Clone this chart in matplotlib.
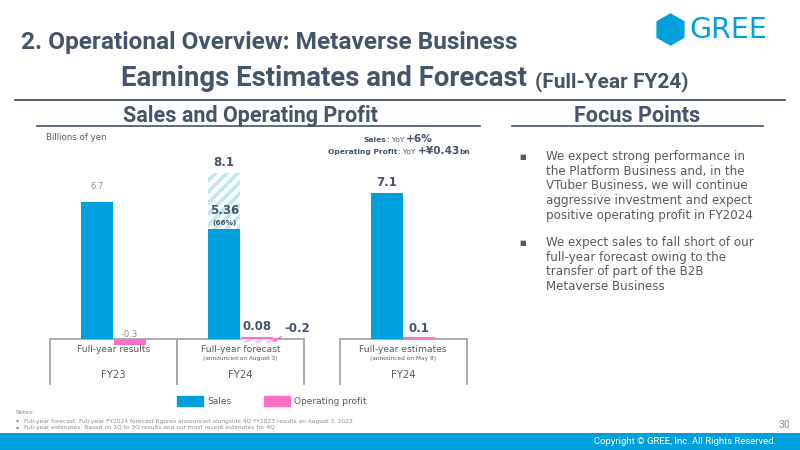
import matplotlib
matplotlib.use("Agg")
import matplotlib.pyplot as plt
from matplotlib.patches import Patch, RegularPolygon, Rectangle
from matplotlib.lines import Line2D

# ---------------- data ----------------
categories = ["Full-year results", "Full-year forecast", "Full-year estimates"]
sublabels = ["", "(announced on August 3)", "(announced on May 8)"]
years = ["FY23", "FY24", "FY24"]
sales_actual = [6.7, 5.36, 7.1]
sales_forecast = [None, 8.1, None]
profit_actual = [-0.3, 0.08, 0.1]
profit_forecast = [None, -0.2, None]
sales_pct_label = "(66%)"
yoy_sales = "+6%"
yoy_profit = "+\u00a50.43"
focus_points = [
    "We expect strong performance in\nthe Platform Business and, in the\nVTuber Business, we will continue\naggressive investment and expect\npositive operating profit in FY2024",
    "We expect sales to fall short of our\nfull-year forecast owing to the\ntransfer of part of the B2B\nMetaverse Business",
]
notes = [
    "Full-year forecast: Full-year FY2024 forecast figures announced alongside 4Q FY2023 results on August 3, 2023",
    "Full-year estimates: Based on 1Q to 3Q results and our most recent estimates for 4Q",
]

# ---------------- style ----------------
BLUE = "#00A0DC"
PINK = "#FF6EC7"
LBLUE = "#BDE6F7"
LPINK = "#FFC9EA"
DARK = "#44546A"
GRAY = "#595959"
LGRAY = "#8C8C8C"
BOX = "#A6A6A6"
HEAD = "Roboto"

plt.rcParams["hatch.linewidth"] = 2.6
plt.rcParams["font.family"] = ["DejaVu Sans"]

W, H = 800, 450
fig = plt.figure(figsize=(8, 4.5), dpi=100)
fig.patch.set_facecolor("white")
renderer = fig.canvas.get_renderer()


def fx(x):
    return x / W


def fy(y):
    return 1 - y / H


def hline(x0, x1, y, color=DARK, lw=1.2):
    fig.add_artist(Line2D([fx(x0), fx(x1)], [fy(y), fy(y)], color=color, lw=lw))


# ---------------- headers ----------------
fig.text(fx(21), fy(42), "2. Operational Overview: Metaverse Business", family=HEAD,
         weight="bold", fontsize=17.6, color=DARK, va="center", ha="left")
fig.text(fx(121), fy(79), "Earnings Estimates and Forecast", family=HEAD,
         weight="bold", fontsize=19.8, color=DARK, va="center", ha="left")
fig.text(fx(535), fy(81.5), "(Full-Year FY24)", family=HEAD, weight="bold",
         fontsize=15, color=DARK, va="center", ha="left")
hline(15, 785, 100, lw=1.3)

fig.text(fx(250), fy(116), "Sales and Operating Profit", family=HEAD, weight="bold",
         fontsize=15.5, color=DARK, va="center", ha="center")
hline(37, 480, 126)
fig.text(fx(637), fy(116), "Focus Points", family=HEAD, weight="bold",
         fontsize=15.5, color=DARK, va="center", ha="center")
hline(512, 763, 126)

# logo
fig.add_artist(RegularPolygon((670.5 / 100, 4.5 - 29.5 / 100), numVertices=6,
                              radius=0.155, orientation=0, color=BLUE,
                              transform=fig.dpi_scale_trans))
fig.text(fx(689), fy(30), "GREE", family="DejaVu Sans", fontsize=20.5, color=BLUE,
         va="center", ha="left")

# ---------------- chart ----------------
PXU = 20.5  # px per unit
BASE = 339
AX_L, AX_R, AX_T, AX_B = 40, 480, 120, 390
ax = fig.add_axes([fx(AX_L), fy(AX_B), (AX_R - AX_L) / W, (AX_B - AX_T) / H])
ax.set_ylim(-(AX_B - BASE) / PXU, (BASE - AX_T) / PXU)
X0, XS = 113.5, 127.0
ax.set_xlim((AX_L - X0) / XS, (AX_R - X0) / XS)
ax.axis("off")

xs = [0.0, 1.0, 2.28]
bw = 0.25
off = 0.128

for i, x in enumerate(xs):
    sx = x - off
    px = x + off
    if sales_forecast[i] is not None:
        ax.bar(sx, sales_forecast[i], width=bw, facecolor="white", edgecolor=LBLUE,
               hatch="///", linewidth=0, zorder=1)
    ax.bar(sx, sales_actual[i], width=bw, color=BLUE, linewidth=0, zorder=2)
    if profit_forecast[i] is not None:
        ax.bar(px, profit_forecast[i], width=bw, facecolor="white", edgecolor=LPINK,
               hatch="///", linewidth=0, zorder=1)
    ax.bar(px, profit_actual[i], width=bw, color=PINK, linewidth=0, zorder=2)

# value labels
ax.annotate(f"{sales_actual[0]}", (xs[0] - off, sales_actual[0]), xytext=(0, 8),
            textcoords="offset points", ha="center", va="bottom", fontsize=6, color=LGRAY)
ax.annotate(f"{profit_actual[0]}", (xs[0] + off, 0), xytext=(0, 0),
            textcoords="offset points", ha="center", va="bottom", fontsize=6, color=LGRAY)
ax.annotate(f"{sales_forecast[1]}", (xs[1] - off, sales_forecast[1]), xytext=(0, 3),
            textcoords="offset points", ha="center", va="bottom", fontsize=8.5,
            weight="bold", color=DARK)
ax.annotate(sales_pct_label, (xs[1] - off, sales_actual[1]), xytext=(0, 2.5),
            textcoords="offset points", ha="center", va="bottom", fontsize=5.3,
            weight="bold", color=DARK)
ax.annotate(f"{sales_actual[1]}", (xs[1] - off, sales_actual[1]), xytext=(0, 9),
            textcoords="offset points", ha="center", va="bottom", fontsize=8.5,
            weight="bold", color=DARK)
ax.annotate(f"{profit_actual[1]}", (xs[1] + off, profit_actual[1]), xytext=(0, 3),
            textcoords="offset points", ha="center", va="bottom", fontsize=8.5,
            weight="bold", color=DARK)
ax.annotate(f"{profit_forecast[1]}", xy=(xs[1] + off + 0.12, -0.12),
            xytext=(1.445, 0.5), textcoords="data", ha="center", va="center",
            fontsize=8.5, weight="bold", color=DARK,
            arrowprops=dict(arrowstyle="-|>", color=PINK, lw=1.0,
                            mutation_scale=5, shrinkA=0, shrinkB=0))
ax.annotate(f"{sales_actual[2]}", (xs[2] - off, sales_actual[2]), xytext=(0, 3),
            textcoords="offset points", ha="center", va="bottom", fontsize=8.5,
            weight="bold", color=DARK)
ax.annotate(f"{profit_actual[2]}", (xs[2] + off, profit_actual[2]), xytext=(0, 1.5),
            textcoords="offset points", ha="center", va="bottom", fontsize=8.5,
            weight="bold", color=DARK)

# category boxes
ybot = -(384 - BASE) / PXU
for i, x in enumerate(xs):
    ax.plot([x - 0.5, x + 0.5], [0, 0], color=BOX, lw=1.3, zorder=0.5,
            solid_capstyle="butt")
    ax.plot([x - 0.5, x - 0.5], [0, ybot], color=BOX, lw=1.3, zorder=0.5)
    ax.plot([x + 0.5, x + 0.5], [0, ybot], color=BOX, lw=1.3, zorder=0.5)
    ax.text(x, -(350 - BASE) / PXU, categories[i], ha="center", va="center",
            fontsize=6.6, color=GRAY)
    if sublabels[i]:
        ax.text(x, -(358.5 - BASE) / PXU, sublabels[i], ha="center", va="center",
                fontsize=4.2, color=GRAY)
    ax.text(x, -(375 - BASE) / PXU, years[i], ha="center", va="center",
            fontsize=7.3, color=GRAY)

fig.text(fx(46), fy(137), "Billions of yen", fontsize=6.2, color=GRAY,
         ha="left", va="center")


# YoY annotations: pieces measured and placed side by side on one baseline
def rich_line(xc, y, parts):
    texts = []
    widths = []
    for txt, size, wt in parts:
        t = fig.text(0, fy(y), txt, fontsize=size, weight=wt, color=DARK,
                     ha="left", va="baseline")
        bb = t.get_window_extent(renderer=renderer)
        texts.append(t)
        widths.append(bb.width)
    total = sum(widths)
    x = xc - total / 2
    for t, w in zip(texts, widths):
        t.set_x(fx(x))
        x += w


rich_line(398.5, 142.5, [("Sales", 5.4, "bold"), (": YoY ", 5.4, "normal"),
                         (yoy_sales, 7.6, "bold")])
rich_line(399.5, 154.5, [("Operating Profit", 5.4, "bold"), (": YoY ", 5.4, "normal"),
                         (yoy_profit, 7.6, "bold"), ("bn", 5.4, "bold")])

# legend
leg = fig.legend(handles=[Patch(color=BLUE), Patch(color=PINK)],
                 labels=["Sales", "Operating profit"], loc="center",
                 bbox_to_anchor=(fx(272), fy(401)), ncol=2, frameon=False,
                 handlelength=2.9, handleheight=1.3, handletextpad=0.45,
                 columnspacing=3.6, fontsize=6.5, borderpad=0, borderaxespad=0)
for t in leg.get_texts():
    t.set_color(GRAY)

# ---------------- focus points ----------------
ys = [150, 236]
for y, txt in zip(ys, focus_points):
    fig.text(fx(523), fy(y + 7), "\u25a0", fontsize=5, color=GRAY, ha="center",
             va="center")
    fig.text(fx(546), fy(y), txt, fontsize=8.6, color=GRAY, ha="left", va="top",
             linespacing=1.17)

# ---------------- notes & footer ----------------
fig.text(fx(15), fy(413), "Notes:", fontsize=4.2, color=LGRAY, ha="left", va="center")
for k, n in enumerate(notes):
    yy = 421 + k * 7
    fig.text(fx(17), fy(yy), "\u25cf", fontsize=2.5, color=LGRAY, ha="center", va="center")
    fig.text(fx(24), fy(yy), n, fontsize=4.2, color=LGRAY, ha="left", va="center")

fig.text(fx(790), fy(425), "30", family=HEAD, fontsize=7.5, color=LGRAY,
         ha="right", va="center")
fig.add_artist(Rectangle((0, 0), 1, 17 / H, transform=fig.transFigure,
                         color=BLUE, lw=0))
fig.text(fx(776), fy(441.5), "Copyright \u00a9 GREE, Inc. All Rights Reserved.",
         family=HEAD, fontsize=6.8, color="white", ha="right", va="center")

fig.savefig("out.png", dpi=100)
